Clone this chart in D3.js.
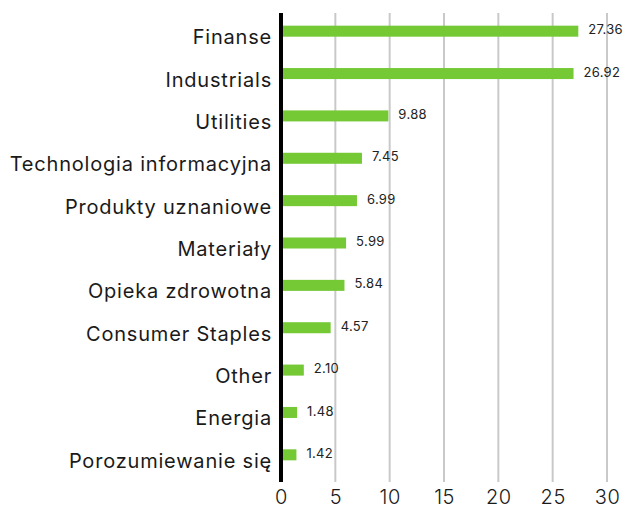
<!DOCTYPE html>
<html>
<head>
<meta charset="utf-8">
<script src="https://cdn.jsdelivr.net/npm/d3@7"></script>
<style>
body { margin: 0; background: #fff; overflow: hidden; }
text { font-family: Inter, "Open Sans", sans-serif; }
</style>
</head>
<body>
<div id="chart"></div>
<script>
var categories = ["Finanse", "Industrials", "Utilities", "Technologia informacyjna", "Produkty uznaniowe",
	"Materiały", "Opieka zdrowotna", "Consumer Staples", "Other", "Energia", "Porozumiewanie się"];
var values = [27.36, 26.92, 9.88, 7.45, 6.99, 5.99, 5.84, 4.57, 2.10, 1.48, 1.42];
var ticks = [0, 5, 10, 15, 20, 25, 30];

var width = 624, height = 510;

var svg = d3.select("#chart")
	.append("svg")
	.attr("width", width)
	.attr("height", height);

var x = d3.scaleLinear().domain([0, 30]).range([281, 607]);
var y = d3.scaleBand()
	.domain(categories)
	.range([10, 476])
	.paddingInner(0.74)
	.paddingOuter(0.37);

// gridlines
svg.append("g")
	.selectAll("line")
	.data(ticks.slice(1))
	.enter().append("line")
	.attr("x1", function(d){ return x(d); })
	.attr("x2", function(d){ return x(d); })
	.attr("y1", 13)
	.attr("y2", 482)
	.attr("stroke", "#c9c9c9")
	.attr("stroke-width", 2);

// bars
svg.append("g")
	.selectAll("rect")
	.data(values)
	.enter().append("rect")
	.attr("x", x(0))
	.attr("y", function(d, i){ return y(categories[i]); })
	.attr("width", function(d){ return x(d) - x(0); })
	.attr("height", y.bandwidth())
	.attr("fill", "#75c935");

// value labels
svg.append("g")
	.selectAll("text")
	.data(values)
	.enter().append("text")
	.attr("x", function(d){ return x(d) + 10; })
	.attr("y", function(d, i){ return y(categories[i]) + y.bandwidth() / 2 - 1.5; })
	.attr("dy", "0.35em")
	.attr("font-size", 13)
	.attr("letter-spacing", "0.3px")
	.attr("fill", "#222")
	.text(function(d){ return d.toFixed(2); });

// category labels
svg.append("g")
	.selectAll("text")
	.data(categories)
	.enter().append("text")
	.attr("x", 272)
	.attr("y", function(d){ return y(d) + y.bandwidth() / 2 + 6; })
	.attr("dy", "0.35em")
	.attr("text-anchor", "end")
	.attr("font-size", 20)
	.attr("letter-spacing", "0.8px")
	.attr("fill", "#1a1a1a")
	.text(function(d){ return d; });

// axis line
svg.append("line")
	.attr("x1", x(0)).attr("x2", x(0))
	.attr("y1", 13).attr("y2", 482)
	.attr("stroke", "#000")
	.attr("stroke-width", 4);

// x axis
var xAxis = svg.append("g")
	.attr("transform", "translate(0,482)")
	.call(d3.axisBottom(x).tickValues(ticks).tickSize(0).tickPadding(8));
xAxis.select(".domain").remove();
xAxis.selectAll("text")
	.attr("font-size", 20)
	.attr("font-family", "Inter, 'Open Sans', sans-serif")
	.attr("font-weight", 300)
	.attr("letter-spacing", "0.5px")
	.attr("fill", "#1a1a1a");
</script>
</body>
</html>
